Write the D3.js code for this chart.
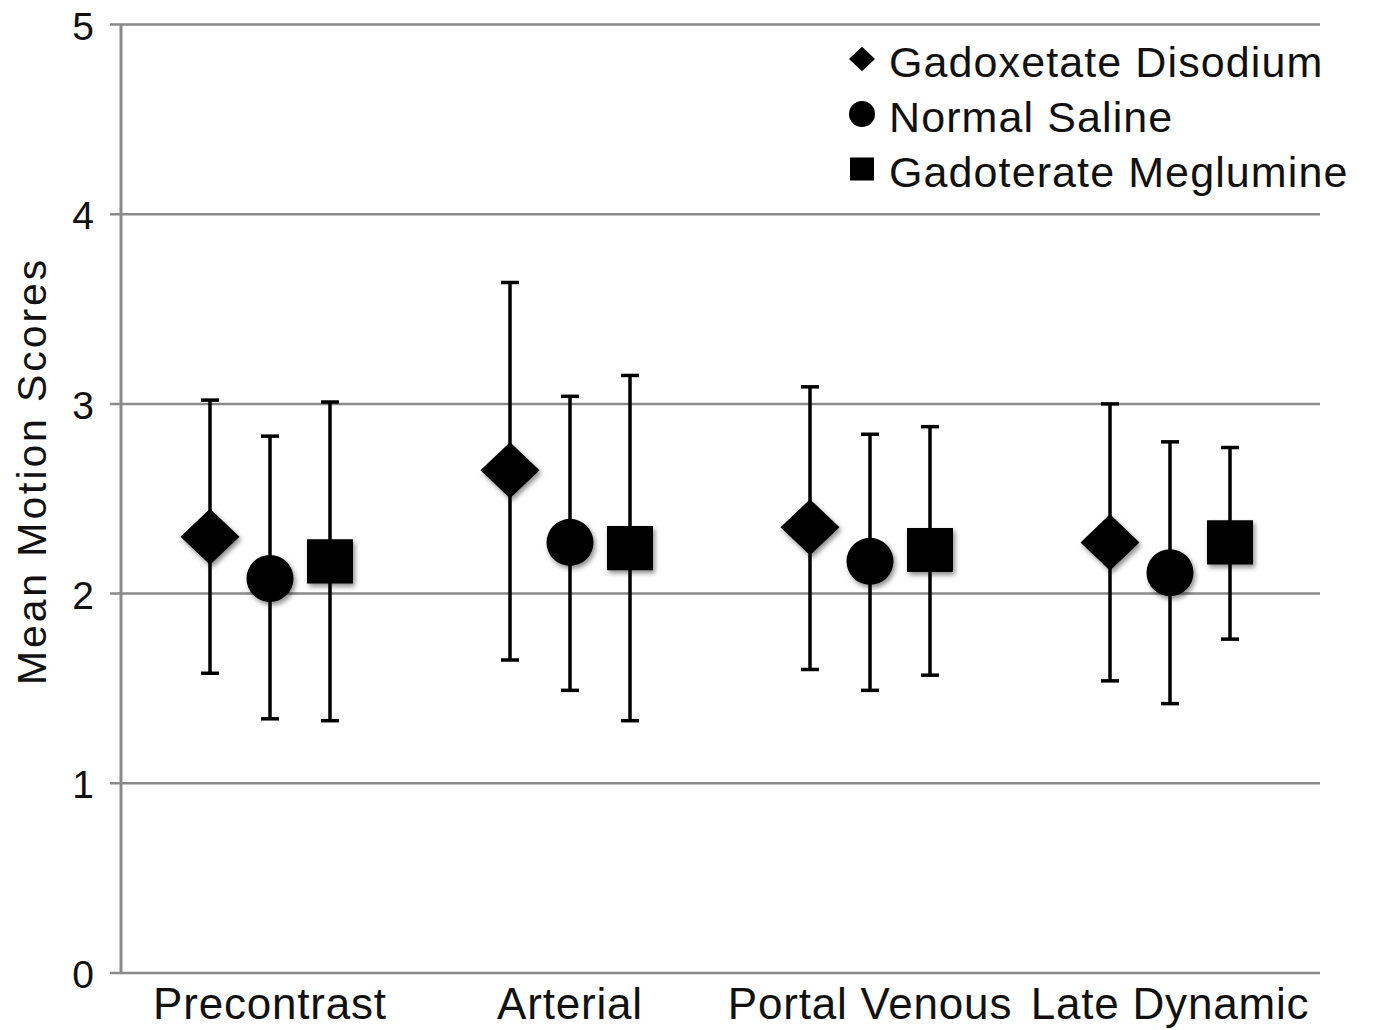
<!DOCTYPE html>
<html lang="en">
<head>
  <meta charset="UTF-8" />
  <title>Mean Motion Scores</title>
  <style>
    body, html { margin: 0; padding: 0; background: #fff; }
    svg { display: block; font-family: "Liberation Sans", Arial, Helvetica, sans-serif; }
  </style>
</head>
<body>
  <svg id="chart" width="1378" height="1030"></svg>

  <script src="https://d3js.org/d3.v7.min.js"></script>
  <script>
    // Data
    const phases = ["Precontrast", "Arterial", "Portal Venous", "Late Dynamic"];
    const agents = ["Gadoxetate Disodium", "Normal Saline", "Gadoterate Meglumine"];
    const shapes = ["diamond", "circle", "square"];

    // mean, lower and upper error bar ends; one row per agent, one value per phase
    const means = [
      [2.30, 2.65, 2.35, 2.27],
      [2.08, 2.27, 2.17, 2.11],
      [2.17, 2.24, 2.23, 2.27]
    ];
    const lows = [
      [1.58, 1.65, 1.60, 1.54],
      [1.34, 1.49, 1.49, 1.42],
      [1.33, 1.33, 1.57, 1.76]
    ];
    const highs = [
      [3.02, 3.64, 3.09, 3.00],
      [2.83, 3.04, 2.84, 2.80],
      [3.01, 3.15, 2.88, 2.77]
    ];
    const yTicks = [0, 1, 2, 3, 4, 5];

    const svg = d3.select("#chart");

    // Scales
    const y = d3.scaleLinear().domain([0, 5]).range([973, 24.5]);
    const x = d3.scaleBand().domain(phases).range([120, 1320]);
    const offset = d3.scalePoint().domain(agents).range([-60, 60]);

    // soft drop shadow on the markers
    const defs = svg.append("defs");
    const shadow = defs.append("filter").attr("id", "shadow")
      .attr("x", "-30%").attr("y", "-30%").attr("width", "170%").attr("height", "170%");
    shadow.append("feDropShadow")
      .attr("dx", 2).attr("dy", 3).attr("stdDeviation", 2.5)
      .attr("flood-color", "#000").attr("flood-opacity", 0.45);

    // Gridlines
    svg.append("g")
      .selectAll("line").data(yTicks).join("line")
      .attr("x1", 110).attr("x2", 1320)
      .attr("y1", d => y(d)).attr("y2", d => y(d))
      .attr("stroke", "#8a8a8a").attr("stroke-width", 2.5);

    // Y axis line
    svg.append("line")
      .attr("x1", 121).attr("x2", 121)
      .attr("y1", y(5)).attr("y2", y(0))
      .attr("stroke", "#8a8a8a").attr("stroke-width", 3);

    // Tick labels
    svg.append("g")
      .selectAll("text").data(yTicks).join("text")
      .attr("x", 94).attr("y", d => y(d) + 15)
      .attr("text-anchor", "end")
      .attr("font-size", 39).attr("fill", "#111")
      .text(d => d);

    // Y title
    svg.append("text")
      .attr("transform", "translate(46,471) rotate(-90)")
      .attr("text-anchor", "middle")
      .attr("font-size", 41).attr("letter-spacing", 2.9).attr("fill", "#111")
      .text("Mean Motion Scores");

    // X labels
    svg.append("g")
      .selectAll("text").data(phases).join("text")
      .attr("x", d => x(d) + x.bandwidth() / 2)
      .attr("y", 1019)
      .attr("text-anchor", "middle")
      .attr("font-size", 44).attr("letter-spacing", 0.8).attr("fill", "#111")
      .text(d => d);

    // Flatten to one record per marker
    const points = [];
    agents.forEach((a, i) => {
      phases.forEach((p, j) => {
        points.push({ agent: a, shape: shapes[i], phase: p,
          mean: means[i][j], low: lows[i][j], high: highs[i][j] });
      });
    });

    const cx = d => x(d.phase) + x.bandwidth() / 2 + offset(d.agent);

    // Error bars
    const bars = svg.append("g").attr("stroke", "#000").attr("stroke-width", 3.5);
    bars.selectAll("line.stem").data(points).join("line").attr("class", "stem")
      .attr("x1", cx).attr("x2", cx)
      .attr("y1", d => y(d.low)).attr("y2", d => y(d.high));
    bars.selectAll("line.capHi").data(points).join("line").attr("class", "capHi")
      .attr("x1", d => cx(d) - 9).attr("x2", d => cx(d) + 9)
      .attr("y1", d => y(d.high)).attr("y2", d => y(d.high));
    bars.selectAll("line.capLo").data(points).join("line").attr("class", "capLo")
      .attr("x1", d => cx(d) - 9).attr("x2", d => cx(d) + 9)
      .attr("y1", d => y(d.low)).attr("y2", d => y(d.low));

    // marker path for a given shape and size (size = overall width)
    function markerPath(shape, s) {
      const h = s / 2;
      if (shape === "diamond") {
        const v = h * 0.95;
        return `M0,${-v}L${h},0L0,${v}L${-h},0Z`;
      }
      if (shape === "square") {
        const v = h * 0.96;
        return `M${-h},${-v}H${h}V${v}H${-h}Z`;
      }
      return `M${h},0A${h},${h} 0 1,1 ${-h},0A${h},${h} 0 1,1 ${h},0Z`;
    }
    const markerSize = { diamond: 59, circle: 47, square: 46 };

    svg.append("g").attr("filter", "url(#shadow)")
      .selectAll("path").data(points).join("path")
      .attr("transform", d => `translate(${cx(d)},${y(d.mean)})`)
      .attr("d", d => markerPath(d.shape, markerSize[d.shape]))
      .attr("fill", "#000");

    // Legend
    const legendSize = { diamond: 26, circle: 26, square: 24 };
    const legend = svg.append("g").attr("transform", "translate(862,0)");
    const rows = legend.selectAll("g").data(agents).join("g")
      .attr("transform", (d, i) => `translate(0,${59 + i * 55})`);
    rows.append("path")
      .attr("d", (d, i) => markerPath(shapes[i], legendSize[shapes[i]]))
      .attr("fill", "#000");
    rows.append("text")
      .attr("x", 27).attr("y", 18)
      .attr("font-size", 43).attr("letter-spacing", 1.1).attr("fill", "#111")
      .text(d => d);
  </script>
</body>
</html>
